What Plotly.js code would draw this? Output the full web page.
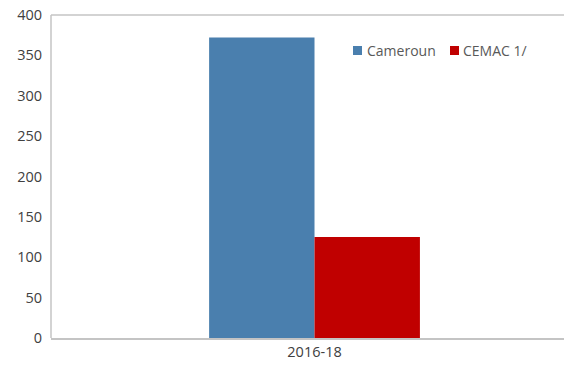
<!DOCTYPE html>
<html>
<head>
<meta charset="utf-8">
<script src="https://cdn.plot.ly/plotly-3.0.1.min.js"></script>
<style>html,body{margin:0;padding:0;background:#fff;overflow:hidden;width:564px;height:366px;}#wrap{position:absolute;left:0;top:0;width:564px;height:366px;overflow:hidden;}#chart{width:600px;height:366px;}</style>
</head>
<body>
<div id="wrap"><div id="chart"></div></div>
<script>
var categories = ["2016-18"];
var cameroun = [372];
var cemac = [125];
var seriesNames = ["Cameroun", "CEMAC 1/"];
var seriesColors = ["#4a7fae", "#c00000"];
var yTicks = [0, 50, 100, 150, 200, 250, 300, 350, 400];

var W = 600, H = 366, M = {l: 51, r: 0, t: 15, b: 28};
var pw = W - M.l - M.r, ph = H - M.t - M.b;
function px(x) { return (x - M.l) / pw; }
function py(y) { return (H - M.b - y) / ph; }

var traces = [
  {type: "bar", x: categories, y: cameroun, name: seriesNames[0], marker: {color: seriesColors[0]}},
  {type: "bar", x: categories, y: cemac, name: seriesNames[1], marker: {color: seriesColors[1]}}
];

var frameColor = "#c4c4c4";
var shapes = [
  {type: "line", xref: "paper", yref: "paper", x0: 0, x1: 0, y0: 0, y1: 1, line: {color: frameColor, width: 1.5}},
  {type: "line", xref: "paper", yref: "paper", x0: 0, x1: 1, y0: 1, y1: 1, line: {color: frameColor, width: 1.5}}
];
var annotations = [];
var legendItems = [{sx: 353, tx: 366}, {sx: 450, tx: 462}];
legendItems.forEach(function (it, i) {
  shapes.push({type: "rect", xref: "paper", yref: "paper",
    x0: px(it.sx), x1: px(it.sx + 9), y0: py(55), y1: py(46),
    fillcolor: seriesColors[i], line: {width: 0}});
  annotations.push({xref: "paper", yref: "paper", x: px(it.tx), y: py(50.5),
    xanchor: "left", yanchor: "middle", text: seriesNames[i], showarrow: false,
    borderpad: 0, font: {size: 14, color: "#595959"}});
});

var layout = {
  width: W, height: H,
  margin: M,
  paper_bgcolor: "#fff", plot_bgcolor: "#fff",
  barmode: "group", bargap: 0.6, bargroupgap: 0,
  font: {family: "Open Sans, sans-serif", size: 14, color: "#595959"},
  showlegend: false,
  shapes: shapes,
  annotations: annotations,
  xaxis: {type: "category", range: [-0.5, 0.5417], showline: true, linecolor: frameColor, linewidth: 1.5,
          mirror: false, ticks: "", showgrid: false, tickfont: {size: 14.5, color: "#404040"}, fixedrange: true},
  yaxis: {range: [0, 400], tickvals: yTicks, showline: false,
          ticks: "", showgrid: false, zeroline: false, tickfont: {size: 14.5, color: "#404040"}, ticklabelstandoff: 8}
};

Plotly.newPlot("chart", traces, layout, {displayModeBar: false, staticPlot: true});
</script>
</body>
</html>
